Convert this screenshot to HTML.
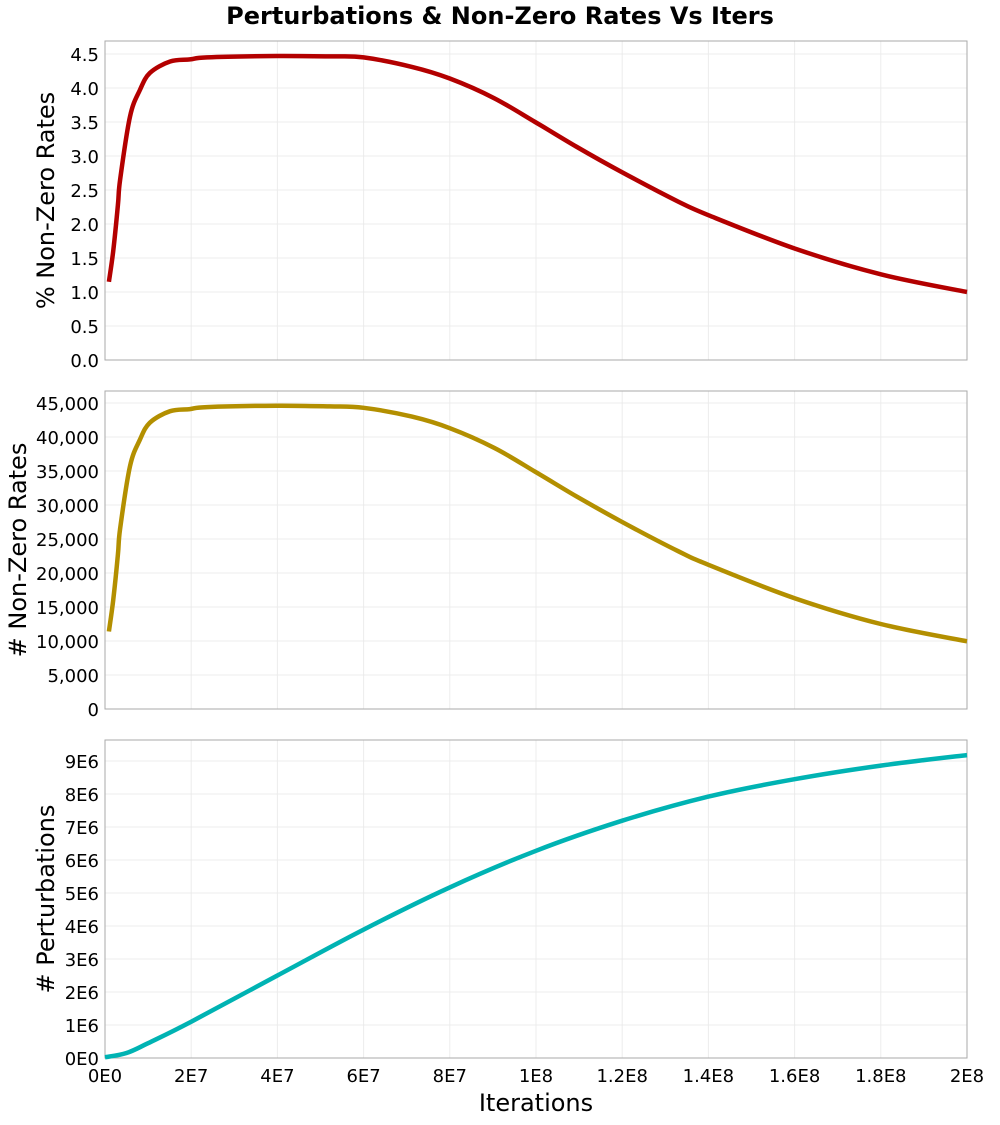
<!DOCTYPE html>
<html><head><meta charset="utf-8">
<style>
html,body{margin:0;padding:0;background:#fff;}
svg text{font-family:"DejaVu Sans","Liberation Sans",sans-serif;fill:#000;}
</style></head>
<body>
<svg id="chart" width="1000" height="1120" viewBox="0 0 1000 1120" xmlns="http://www.w3.org/2000/svg">
<text x="500" y="24" text-anchor="middle" font-size="24" font-weight="bold">Perturbations &amp; Non-Zero Rates Vs Iters</text>
<g id="layer"></g>
</svg>
<script>
// x values in units of 1E7 iterations
const xsRate = [0.09,0.19,0.3,0.35,0.58,0.81,1.04,1.51,1.97,2.37,3.99,5.22,6.0,7.12,8.0,9.03,9.98,10.93,11.97,13.3,14.0,16.0,18.0,20.0];
const pctRates = [1.15,1.6,2.28,2.65,3.58,3.97,4.22,4.39,4.42,4.45,4.47,4.465,4.45,4.31,4.14,3.85,3.5,3.14,2.77,2.33,2.13,1.64,1.26,1.0];
const countRates = [11400,16000,22700,26500,35700,39600,42100,43800,44100,44400,44600,44500,44300,43000,41300,38400,34900,31300,27600,23200,21200,16300,12500,9950];
const xsPert = [0,0.5,1,2,4,6,8,10,12,14,16,18,20];
const perturbations = [0.02,0.15,0.45,1.1,2.5,3.89,5.17,6.28,7.19,7.92,8.45,8.86,9.18];
const xTickVals = [0,2,4,6,8,10,12,14,16,18,20];
const xTickLabels = ["0E0","2E7","4E7","6E7","8E7","1E8","1.2E8","1.4E8","1.6E8","1.8E8","2E8"];
const pctTicks = [0,0.5,1,1.5,2,2.5,3,3.5,4,4.5];
const pctTickLabels = ["0.0","0.5","1.0","1.5","2.0","2.5","3.0","3.5","4.0","4.5"];
const cntTicks = [0,5000,10000,15000,20000,25000,30000,35000,40000,45000];
const cntTickLabels = ["0","5,000","10,000","15,000","20,000","25,000","30,000","35,000","40,000","45,000"];
const pertTicks = [0,1,2,3,4,5,6,7,8,9];
const pertTickLabels = ["0E0","1E6","2E6","3E6","4E6","5E6","6E6","7E6","8E6","9E6"];

const NS="http://www.w3.org/2000/svg";
const layer=document.getElementById('layer');
const L=105,R=967;
const xScale=v=>L+(v/20)*(R-L);
function mk(tag,attrs,parent){const e=document.createElementNS(NS,tag);for(const k in attrs)e.setAttribute(k,attrs[k]);(parent||layer).appendChild(e);return e;}
function smoothPath(pts){
  let d='M'+pts[0][0].toFixed(1)+','+pts[0][1].toFixed(1);
  for(let i=0;i<pts.length-1;i++){
    const p0=pts[Math.max(0,i-1)],p1=pts[i],p2=pts[i+1],p3=pts[Math.min(pts.length-1,i+2)];
    const c1x=p1[0]+(p2[0]-p0[0])/6,c1y=p1[1]+(p2[1]-p0[1])/6;
    const c2x=p2[0]-(p3[0]-p1[0])/6,c2y=p2[1]-(p3[1]-p1[1])/6;
    d+='C'+c1x.toFixed(1)+','+c1y.toFixed(1)+' '+c2x.toFixed(1)+','+c2y.toFixed(1)+' '+p2[0].toFixed(1)+','+p2[1].toFixed(1);
  }
  return d;
}
function panel(name,top,zeroY,unitPx,ticks,labels,xs,ys,color,title,titleX,showX){
  const g=mk('g',{});
  
  
  const bottom=zeroY;
  const yScale=v=>zeroY-v*unitPx;
  for(let i=0;i<ticks.length;i++){
    const y=yScale(ticks[i]);
    const gl=mk('line',{x1:L,x2:R,y1:y,y2:y,stroke:'#ececec','stroke-width':1},g);
    
    
    const t=mk('text',{x:L-6,y:y+7,'text-anchor':'end','font-size':18},g);
    t.textContent=labels[i];
    
    
  }
  for(let i=0;i<xTickVals.length;i++){
    const x=xScale(xTickVals[i]);
    const gl=mk('line',{x1:x,x2:x,y1:top,y2:bottom,stroke:'#ececec','stroke-width':1},g);
    
    
    if(showX){
      const t=mk('text',{x:x,y:bottom+24,'text-anchor':'middle','font-size':18},g);
      t.textContent=xTickLabels[i];
      
      
    }
  }
  const fr=mk('rect',{x:L,y:top,width:R-L,height:bottom-top,fill:'none',stroke:'#aaaaaa','stroke-width':1},g);
  
  
  const pts=xs.map((v,i)=>[xScale(v),yScale(ys[i])]);
  const p=mk('path',{d:smoothPath(pts),fill:'none',stroke:color,'stroke-width':4.5,'stroke-linejoin':'round'},g);
  
  
  const cy=(top+bottom)/2;
  const tt=mk('text',{x:0,y:0,'text-anchor':'middle','font-size':24,transform:'translate('+titleX+','+cy+') rotate(-90)'},g);
  tt.textContent=title;
  
  
}
panel('pct-non-zero',41,360,68,pctTicks,pctTickLabels,xsRate,pctRates,'#b30000','% Non-Zero Rates',54,false);
panel('count-non-zero',391,709,0.0068,cntTicks,cntTickLabels,xsRate,countRates,'#b38f00','# Non-Zero Rates',26,false);
panel('perturbations',740,1058,33,pertTicks,pertTickLabels,xsPert,perturbations,'#00b3b3','# Perturbations',54,true);
const xt=mk('text',{x:536,y:1111,'text-anchor':'middle','font-size':24});
xt.textContent='Iterations';


</script>
</body></html>
